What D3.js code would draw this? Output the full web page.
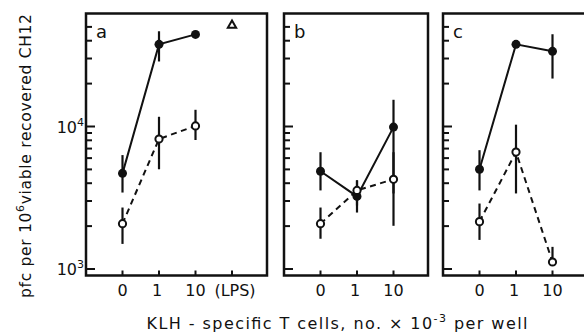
<!DOCTYPE html>
<html>
<head>
<meta charset="utf-8">
<script src="https://cdn.jsdelivr.net/npm/d3@7"></script>
<style>
  html, body { margin: 0; padding: 0; background: #fff; }
  svg { display: block; }
  text { font-family: "DejaVu Sans", sans-serif; fill: #111; }
</style>
</head>
<body>
<svg id="chart" width="584" height="332"></svg>
<script>
// ---------------- data ----------------
const panelLabels = ["a", "b", "c"];
const catsA = ["0", "1", "10", "(LPS)"];
const catsB = ["0", "1", "10"];
const catsC = ["0", "1", "10"];

// filled circles (solid line) and open circles (dashed line), pfc per 10^6 cells
const filledA = [4690, 37700, 44300];
const filledAErr = [[3440, 6300], [28600, 46600], null];
const openA = [2080, 8170, 10100];
const openAErr = [[1500, 2700], [5010, 11700], [8040, 13100]];
const lpsA = [51300]; // open triangle at (LPS)

const filledB = [4850, 3230, 9900];
const filledBErr = [[3560, 6600], [2490, 4190], [3390, 15400]];
const openB = [2080, 3560, 4260];
const openBErr = [[1630, 2700], [2790, 4190], [2010, 6600]];

const filledC = [5010, 37700, 33700];
const filledCErr = [[3560, 6820], null, [21700, 44400]];
const openC = [2150, 6610, 1120];
const openCErr = [[1600, 2880], [3390, 10300], [1120, 1430]];

const yMajorTicks = [1e3, 1e4];
const yMajorExp = ["3", "4"];
const yMinorTicks = [2e3, 3e3, 4e3, 5e3, 6e3, 7e3, 8e3, 9e3, 2e4, 3e4, 4e4, 5e4];

const yTitleParts = ["pfc per 10", "6", "viable recovered CH12"];
const xTitleParts = ["KLH - specific  T cells, no. \u00d7 10", "-3", " per well"];

// ---------------- layout ----------------
const svg = d3.select("#chart");
const frameTop = 13.5, frameBottom = 275.5;
const panels = [
  { label: panelLabels[0], left: 86, right: 267, cats: catsA,
    filled: filledA, filledErr: filledAErr, open: openA, openErr: openAErr, tri: lpsA },
  { label: panelLabels[1], left: 284, right: 428, cats: catsB,
    filled: filledB, filledErr: filledBErr, open: openB, openErr: openBErr, tri: null },
  { label: panelLabels[2], left: 443, right: 592, cats: catsC,
    filled: filledC, filledErr: filledCErr, open: openC, openErr: openCErr, tri: null }
];
const firstOffset = 36.5, step = 36.5;

const y = d3.scaleLog().domain([1e3, 1e4]).range([269, 126.5]);

panels.forEach((p, pi) => {
  const g = svg.append("g");
  const x = d3.scalePoint().domain(p.cats)
    .range([p.left + firstOffset, p.left + firstOffset + step * (p.cats.length - 1)]);

  // frame
  g.append("rect")
    .attr("x", p.left).attr("y", frameTop)
    .attr("width", p.right - p.left).attr("height", frameBottom - frameTop)
    .attr("fill", "none").attr("stroke", "#111").attr("stroke-width", 2.5);

  // y ticks (inside, left)
  g.selectAll(".ymin").data(yMinorTicks).join("line")
    .attr("x1", p.left).attr("x2", p.left + 6)
    .attr("y1", d => y(d)).attr("y2", d => y(d))
    .attr("stroke", "#111").attr("stroke-width", 2);
  g.selectAll(".ymaj").data(yMajorTicks).join("line")
    .attr("x1", p.left).attr("x2", p.left + 9)
    .attr("y1", d => y(d)).attr("y2", d => y(d))
    .attr("stroke", "#111").attr("stroke-width", 2);

  // x ticks (inside, bottom)
  g.selectAll(".xt").data(p.cats).join("line")
    .attr("x1", d => x(d)).attr("x2", d => x(d))
    .attr("y1", frameBottom).attr("y2", frameBottom - 5)
    .attr("stroke", "#111").attr("stroke-width", 2);

  // x tick labels
  g.selectAll(".xl").data(p.cats).join("text")
    .attr("x", d => x(d) + (d === "(LPS)" ? 3 : (d === "1" ? -2 : 0)))
    .attr("y", 296)
    .attr("text-anchor", "middle")
    .attr("font-size", 16)
    .text(d => d);

  // panel label
  g.append("text")
    .attr("x", p.left + 10).attr("y", 38)
    .attr("font-size", 18)
    .text(p.label);

  const line = d3.line().x(d => x(d.c)).y(d => y(d.v));
  const filledPts = p.filled.map((v, i) => ({ c: p.cats[i], v, e: p.filledErr[i] }));
  const openPts = p.open.map((v, i) => ({ c: p.cats[i], v, e: p.openErr[i] }));

  // error bars
  [filledPts, openPts].forEach(pts => {
    g.selectAll(null).data(pts.filter(d => d.e)).join("line")
      .attr("x1", d => x(d.c)).attr("x2", d => x(d.c))
      .attr("y1", d => y(d.e[0])).attr("y2", d => y(d.e[1]))
      .attr("stroke", "#111").attr("stroke-width", 2.2);
  });

  // lines
  g.append("path").datum(filledPts).attr("d", line)
    .attr("fill", "none").attr("stroke", "#111").attr("stroke-width", 2);
  g.append("path").datum(openPts).attr("d", line)
    .attr("fill", "none").attr("stroke", "#111").attr("stroke-width", 2)
    .attr("stroke-dasharray", "6,4.5");

  // markers
  g.selectAll(null).data(filledPts).join("circle")
    .attr("cx", d => x(d.c)).attr("cy", d => y(d.v)).attr("r", 4.5)
    .attr("fill", "#111");
  g.selectAll(null).data(openPts).join("circle")
    .attr("cx", d => x(d.c)).attr("cy", d => y(d.v)).attr("r", 3.6)
    .attr("fill", "#fff").attr("stroke", "#111").attr("stroke-width", 2);

  if (p.tri) {
    const triPts = p.tri.map(v => ({ c: p.cats[p.cats.length - 1], v }));
    g.selectAll(null).data(triPts).join("path")
      .attr("d", d3.symbol().type(d3.symbolTriangle).size(30))
      .attr("transform", d => `translate(${x(d.c)},${y(d.v)})`)
      .attr("fill", "#fff").attr("stroke", "#111").attr("stroke-width", 2);
  }
});

// y tick labels
const yl = svg.append("g");
yMajorTicks.forEach((t, i) => {
  const tx = yl.append("text")
    .attr("x", 84).attr("y", y(t) + 6)
    .attr("text-anchor", "end").attr("font-size", 16);
  tx.append("tspan").text("10");
  tx.append("tspan").attr("font-size", 11).attr("dy", -7).text(yMajorExp[i]);
});

// y title
const yt = svg.append("text")
  .attr("transform", "translate(31,156) rotate(-90)")
  .attr("text-anchor", "middle").attr("font-size", 15.5)
  .attr("textLength", 284).attr("lengthAdjust", "spacing");
yt.append("tspan").text(yTitleParts[0]);
yt.append("tspan").attr("font-size", 11).attr("dy", -7).text(yTitleParts[1]);
yt.append("tspan").attr("dy", 7).text(yTitleParts[2]);

// x title
const xt = svg.append("text")
  .attr("x", 337).attr("y", 329)
  .attr("text-anchor", "middle").attr("font-size", 16)
  .attr("textLength", 381).attr("lengthAdjust", "spacing");
xt.append("tspan").text(xTitleParts[0]);
xt.append("tspan").attr("font-size", 11).attr("dy", -7).text(xTitleParts[1]);
xt.append("tspan").attr("dy", 7).text(xTitleParts[2]);
</script>
</body>
</html>
